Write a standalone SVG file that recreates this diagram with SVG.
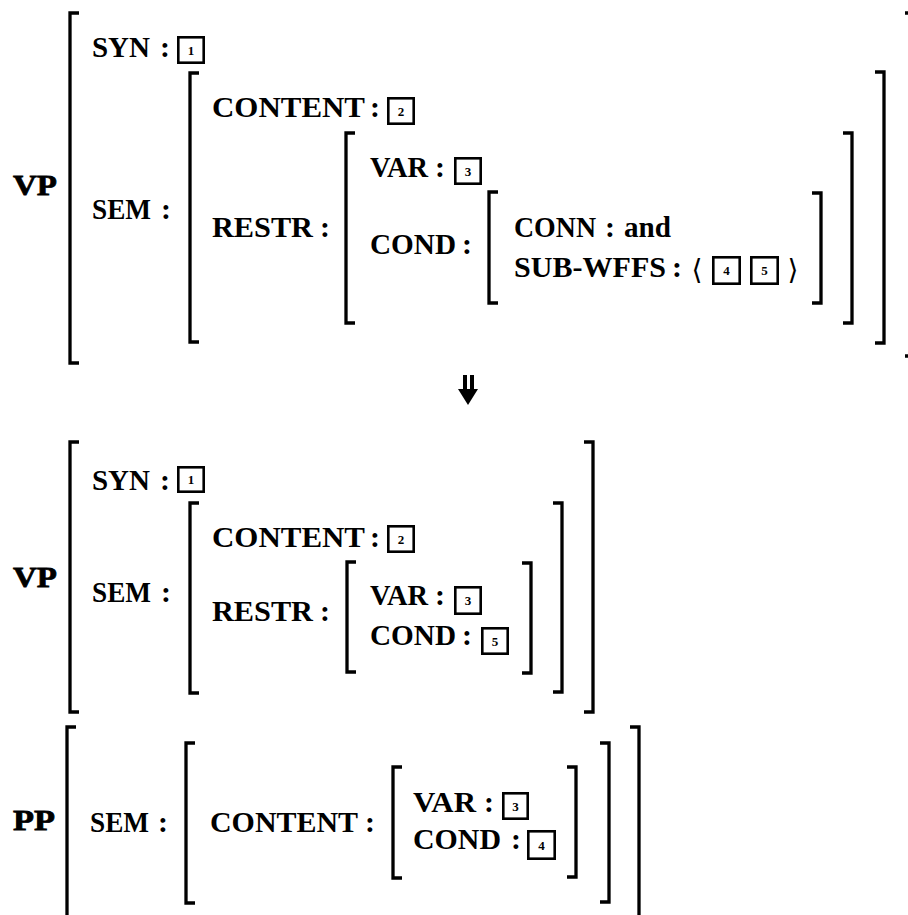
<svg xmlns="http://www.w3.org/2000/svg" width="908" height="915" viewBox="0 0 908 915">
<defs>
<style>
.br{fill:none;stroke:#000;stroke-width:3.3;stroke-linejoin:miter}
.t{font-family:"Liberation Serif","Times New Roman",serif;font-weight:bold;font-size:30px;fill:#000}
.h{font-family:"Liberation Serif","Times New Roman",serif;font-weight:bold;font-size:30px;fill:#000;stroke:#000;stroke-width:0.8}
.c{font-family:"Liberation Serif","Times New Roman",serif;font-weight:bold;font-size:30px;fill:#000;text-anchor:middle}
.bx{fill:#fff;stroke:#000;stroke-width:2.6}
.n{font-family:"Liberation Serif","Times New Roman",serif;font-weight:bold;font-size:13px;fill:#000;text-anchor:middle}
.ang{font-family:"DejaVu Sans",sans-serif;font-size:28px;fill:#000;text-anchor:middle}
</style>
</defs>
<rect width="908" height="915" fill="#fff"/>

<g id="vp-top">
  <text class="h" x="13" y="195" textLength="44" lengthAdjust="spacingAndGlyphs">VP</text>
  <path class="br" d="M79 13 H70 V363 H79"/>
  <path class="br" d="M905 13 H911 V356 H905"/>
  <text class="t" x="92" y="57" textLength="58" lengthAdjust="spacingAndGlyphs">SYN</text>
  <text class="c" x="165" y="57">:</text>
  <rect class="bx" x="178.3" y="37.3" width="25.4" height="25.4"/><text class="n" x="191" y="54.5">1</text>
  <text class="t" x="92" y="219" textLength="59" lengthAdjust="spacingAndGlyphs">SEM</text>
  <text class="c" x="166" y="219">:</text>
  <g id="sem-top">
    <path class="br" d="M199 73 H190 V342 H199"/>
    <path class="br" d="M875 72 H884 V343 H875"/>
    <text class="t" x="212" y="117" textLength="153" lengthAdjust="spacingAndGlyphs">CONTENT</text>
    <text class="c" x="375" y="117">:</text>
    <rect class="bx" x="388.3" y="98.3" width="25.4" height="25.4"/><text class="n" x="401" y="115.5">2</text>
    <text class="t" x="212" y="237" textLength="101" lengthAdjust="spacingAndGlyphs">RESTR</text>
    <text class="c" x="325" y="237">:</text>
    <g id="restr-top">
      <path class="br" d="M355 133 H346 V323 H355"/>
      <path class="br" d="M843 133 H852 V323 H843"/>
      <text class="t" x="370" y="177" textLength="58" lengthAdjust="spacingAndGlyphs">VAR</text>
      <text class="c" x="440" y="177">:</text>
      <rect class="bx" x="455.3" y="158.3" width="25.4" height="25.4"/><text class="n" x="468" y="175.5">3</text>
      <text class="t" x="370" y="254" textLength="86" lengthAdjust="spacingAndGlyphs">COND</text>
      <text class="c" x="467" y="254">:</text>
      <g id="cond-top">
        <path class="br" d="M498 192 H489 V303 H498"/>
        <path class="br" d="M812 193 H821 V303 H812"/>
        <text class="t" x="514" y="237" textLength="82" lengthAdjust="spacingAndGlyphs">CONN</text>
        <text class="c" x="610" y="237">:</text>
        <text class="t" x="624" y="237" textLength="47" lengthAdjust="spacingAndGlyphs">and</text>
        <text class="t" x="514" y="277" textLength="152" lengthAdjust="spacingAndGlyphs">SUB-WFFS</text>
        <text class="c" x="677" y="277">:</text>
        <text class="ang" x="697" y="279">⟨</text>
        <rect class="bx" x="713.3" y="257.3" width="26.4" height="26.4"/><text class="n" x="726.5" y="275">4</text>
        <rect class="bx" x="751.3" y="257.3" width="26.4" height="26.4"/><text class="n" x="764.5" y="275">5</text>
        <text class="ang" x="793" y="279">⟩</text>
      </g>
    </g>
  </g>
</g>

<g id="connectors">
  <rect x="463" y="375" width="4" height="16" fill="#000"/>
  <rect x="470" y="375" width="4" height="16" fill="#000"/>
  <polygon points="458,389 478,389 468,405" fill="#000"/>
</g>

<g id="vp-bottom">
  <text class="h" x="13" y="587" textLength="44" lengthAdjust="spacingAndGlyphs">VP</text>
  <path class="br" d="M79 442 H70 V712 H79"/>
  <path class="br" d="M584 442 H593 V712 H584"/>
  <text class="t" x="92" y="490" textLength="58" lengthAdjust="spacingAndGlyphs">SYN</text>
  <text class="c" x="165" y="490">:</text>
  <rect class="bx" x="178.3" y="467.3" width="25.4" height="24.4"/><text class="n" x="191" y="484">1</text>
  <text class="t" x="92" y="602" textLength="59" lengthAdjust="spacingAndGlyphs">SEM</text>
  <text class="c" x="166" y="602">:</text>
  <g id="sem-bottom">
    <path class="br" d="M199 503 H190 V693 H199"/>
    <path class="br" d="M553 503 H562 V692 H553"/>
    <text class="t" x="212" y="547" textLength="153" lengthAdjust="spacingAndGlyphs">CONTENT</text>
    <text class="c" x="375" y="547">:</text>
    <rect class="bx" x="388.3" y="526.3" width="25.4" height="25.4"/><text class="n" x="401" y="543.5">2</text>
    <text class="t" x="212" y="621" textLength="101" lengthAdjust="spacingAndGlyphs">RESTR</text>
    <text class="c" x="325" y="621">:</text>
    <g id="restr-bottom">
      <path class="br" d="M356 562 H347 V672 H356"/>
      <path class="br" d="M522 563 H531 V673 H522"/>
      <text class="t" x="370" y="605" textLength="58" lengthAdjust="spacingAndGlyphs">VAR</text>
      <text class="c" x="440" y="605">:</text>
      <rect class="bx" x="455.3" y="587.3" width="25.4" height="26.4"/><text class="n" x="468" y="605">3</text>
      <text class="t" x="370" y="645" textLength="86" lengthAdjust="spacingAndGlyphs">COND</text>
      <text class="c" x="467" y="645">:</text>
      <rect class="bx" x="482.3" y="628.3" width="25.4" height="25.4"/><text class="n" x="495" y="645.5">5</text>
    </g>
  </g>
</g>

<g id="pp">
  <text class="h" x="13" y="830" textLength="42" lengthAdjust="spacingAndGlyphs">PP</text>
  <path class="br" d="M76 727 H67 V920"/>
  <path class="br" d="M630 727 H639 V920"/>
  <text class="t" x="90" y="832" textLength="59" lengthAdjust="spacingAndGlyphs">SEM</text>
  <text class="c" x="163" y="832">:</text>
  <g id="sem-pp">
    <path class="br" d="M195 743 H186 V903 H195"/>
    <path class="br" d="M600 743 H609 V902 H600"/>
    <text class="t" x="210" y="832" textLength="148" lengthAdjust="spacingAndGlyphs">CONTENT</text>
    <text class="c" x="370" y="832">:</text>
    <g id="content-pp">
      <path class="br" d="M402 767 H393 V878 H402"/>
      <path class="br" d="M567 767 H576 V877 H567"/>
      <text class="t" x="413" y="812" textLength="63" lengthAdjust="spacingAndGlyphs">VAR</text>
      <text class="c" x="489" y="812">:</text>
      <rect class="bx" x="503.3" y="793.3" width="24.4" height="25.4"/><text class="n" x="515.5" y="810.5">3</text>
      <text class="t" x="413" y="849" textLength="88" lengthAdjust="spacingAndGlyphs">COND</text>
      <text class="c" x="516" y="849">:</text>
      <rect class="bx" x="528.3" y="831.3" width="26.4" height="27.4"/><text class="n" x="541.5" y="849.5">4</text>
    </g>
  </g>
</g>
</svg>
